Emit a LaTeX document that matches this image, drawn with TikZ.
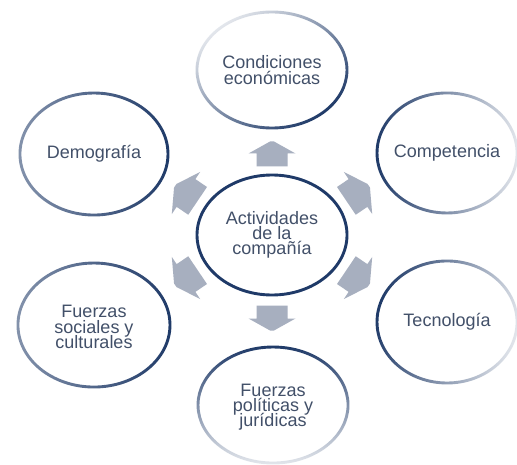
\documentclass[tikz,border=0pt]{standalone}
\usepackage{fontspec}
\setmainfont{Liberation Sans}
\usetikzlibrary{shapes.geometric,fadings}

\definecolor{ringnavy}{HTML}{1F3A68}
\definecolor{arrowgrey}{HTML}{A7AFBF}
\definecolor{labelgrey}{HTML}{425069}

% tight, fixed line spacing inside the ring labels
\newcommand{\ringfont}{\fontsize{9}{7.6}\selectfont\lineskiplimit=-10pt\relax\lineskip=0pt\relax}

% stroke fades out towards one side (rotated with fading angle)
\tikzfading[name=fadeout, left color=transparent!0, middle color=transparent!0, right color=transparent!88]
\tikzfading[name=fadesoft, left color=transparent!0, middle color=transparent!0, right color=transparent!45]

\begin{document}
\begin{tikzpicture}[x=0.5pt, y=-0.5pt,
  ring/.style={ellipse, draw=ringnavy, line width=1.45pt, fill=white, inner sep=0pt},
  lbl/.style={align=center, text=labelgrey, inner sep=0pt, font=\ringfont},
  blockarrow/.pic={
    \fill[arrowgrey] (-13,-15.5) -- (0,-15.5) -- (0,-23.5) -- (12,-2) -- (12,2)
      -- (0,23.5) -- (0,15.5) -- (-13,15.5) -- cycle;
  }]
\useasboundingbox (0,0) rectangle (517,464);
\fill[white] (0,0) rectangle (517,464);

% centre and outer rings
\node[ring, minimum width=75pt, minimum height=60pt] (core) at (272,235) {};
\node[ring, minimum width=75pt, minimum height=58pt, path fading=fadeout, fading angle=135] (econ) at (272,70) {};
\node[ring, minimum width=74pt, minimum height=61pt, path fading=fadesoft, fading angle=180] (demo) at (94,154) {};
\node[ring, minimum width=70pt, minimum height=60pt, path fading=fadeout, fading angle=0] (comp) at (447,153) {};
\node[ring, minimum width=76pt, minimum height=62pt, path fading=fadesoft, fading angle=180] (soc) at (94,325) {};
\node[ring, minimum width=70pt, minimum height=61pt, path fading=fadeout, fading angle=-10] (tec) at (447,322) {};
\node[ring, minimum width=75pt, minimum height=58pt, path fading=fadeout, fading angle=-90] (pol) at (273,405) {};

% labels
\node[lbl] (coret) at (core.center) {Actividades\\de la\\compañía};
\node[lbl] (econt) at (econ.center) {Condiciones\\económicas};
\node[lbl] (demot) at (demo.center) {Demografía};
\node[lbl] (compt) at (comp.center) {Competencia};
\node[lbl] (soct) at ([yshift=-1pt]soc.center) {Fuerzas\\sociales y\\culturales};
\node[lbl] (tect) at (tec.center) {Tecnología};
\node[lbl] (polt) at ([yshift=-1pt]pol.center) {Fuerzas\\políticas y\\jurídicas};

% block arrows from the centre outwards
\pic[rotate=90] at (272,153.5) {blockarrow};
\pic[rotate=-90] at (272,318.5) {blockarrow};
\begin{scope}
  \clip (0,0) rectangle (373,464);
  \pic[rotate=34, scale=1.08] at (358,193) {blockarrow};
  \pic[rotate=-34, scale=1.08] at (358,278) {blockarrow};
\end{scope}
\begin{scope}
  \clip (171,0) rectangle (517,464);
  \pic[rotate=146, scale=1.08] at (186,193) {blockarrow};
  \pic[rotate=214, scale=1.08] at (186,278) {blockarrow};
\end{scope}
\end{tikzpicture}
\end{document}
